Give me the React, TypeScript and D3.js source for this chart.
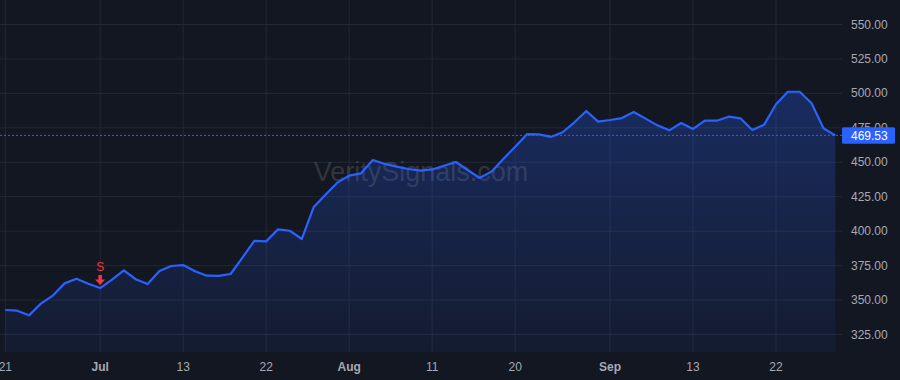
import React from "react";
import * as d3 from "d3";

const dates: string[] = [
  "2021-06-21","2021-06-22","2021-06-23","2021-06-24","2021-06-25","2021-06-28","2021-06-29","2021-06-30",
  "2021-07-01","2021-07-02","2021-07-06","2021-07-07","2021-07-08","2021-07-09","2021-07-12","2021-07-13",
  "2021-07-14","2021-07-15","2021-07-16","2021-07-19","2021-07-20","2021-07-21","2021-07-22","2021-07-23",
  "2021-07-26","2021-07-27","2021-07-28","2021-07-29","2021-07-30",
  "2021-08-02","2021-08-03","2021-08-04","2021-08-05","2021-08-06","2021-08-09","2021-08-10","2021-08-11",
  "2021-08-12","2021-08-13","2021-08-16","2021-08-17","2021-08-18","2021-08-19","2021-08-20","2021-08-23",
  "2021-08-24","2021-08-25","2021-08-26","2021-08-27","2021-08-30","2021-08-31",
  "2021-09-01","2021-09-02","2021-09-03","2021-09-07","2021-09-08","2021-09-09","2021-09-10","2021-09-13",
  "2021-09-14","2021-09-15","2021-09-16","2021-09-17","2021-09-20","2021-09-21","2021-09-22","2021-09-23",
  "2021-09-24","2021-09-27","2021-09-28","2021-09-29",
];

const prices: number[] = [
  342.8, 342.3, 338.9, 347.4, 353.2, 362.1, 365.5, 361.9,
  358.7, 364.8, 371.6, 365.1, 361.6, 371.1, 374.7, 375.4,
  370.9, 367.7, 367.5, 368.9, 380.8, 392.9, 392.6, 401.3,
  400.3, 394.3, 417.3, 426.5, 435.2,
  440.3, 442.0, 451.7, 448.8, 446.8, 445.1, 444.0, 444.8,
  447.5, 450.2, 444.4, 438.6, 443.2, 452.3, 461.2, 470.4,
  470.3, 468.4, 471.8, 479.0, 487.2, 479.5,
  480.7, 482.1, 486.5, 481.7, 476.8, 473.2, 478.5, 474.2,
  480.2, 480.2, 483.1, 481.9, 473.4, 477.3, 492.1, 501.2,
  501.2, 492.8, 474.7, 469.53,
];

const xTickDates: string[] = [
  "2021-06-21","2021-07-01","2021-07-13","2021-07-22","2021-08-02",
  "2021-08-11","2021-08-20","2021-09-01","2021-09-13","2021-09-22",
];
const xTickLabels: string[] = ["21","Jul","13","22","Aug","11","20","Sep","13","22"];
const xTickIsMonth: boolean[] = [false,true,false,false,true,false,false,true,false,false];

const yTicks: number[] = [325, 350, 375, 400, 425, 450, 475, 500, 525, 550];

const signalDates: string[] = ["2021-07-01"];
const signalLabels: string[] = ["S"];

const lastPrice = 469.53;
const watermark = "VeritySignals.com";

const W = 900;
const H = 380;
const plotRight = 842;
const plotBottom = 352;
const FONT = "'Liberation Sans', Arial, sans-serif";

export default function App() {
  const x = d3.scalePoint<string>().domain(dates).range([5.3, 835.3]);
  const y = d3.scaleLinear().domain([325, 550]).range([334.5, 24.5]);

  const pts = dates.map((d, i) => ({ d, v: prices[i] }));
  const line = d3
    .line<{ d: string; v: number }>()
    .x((p) => x(p.d)!)
    .y((p) => y(p.v));
  const area = d3
    .area<{ d: string; v: number }>()
    .x((p) => x(p.d)!)
    .y0(plotBottom)
    .y1((p) => y(p.v));

  const lastY = y(lastPrice);
  const gridColor = "#232836";
  const textColor = "#a6a9b3";

  return (
    <svg
      width={W}
      height={H}
      style={{ position: "fixed", left: 0, top: 0, display: "block" }}
      fontFamily={FONT}
    >
      <defs>
        <linearGradient id="areaGrad" x1="0" y1="0" x2="0" y2="1" gradientUnits="objectBoundingBox">
          <stop offset="0%" stopColor="#2962ff" stopOpacity={0.28} />
          <stop offset="100%" stopColor="#2962ff" stopOpacity={0.06} />
        </linearGradient>
      </defs>
      <rect x={0} y={0} width={W} height={H} fill="#131722" />

      {yTicks.map((t) => (
        <line key={"hy" + t} x1={0} x2={plotRight} y1={y(t)} y2={y(t)} stroke={gridColor} strokeWidth={1} />
      ))}
      {xTickDates.map((d) => (
        <line key={"vx" + d} x1={x(d)} x2={x(d)} y1={0} y2={plotBottom} stroke={gridColor} strokeWidth={1} />
      ))}

      <text x={421} y={181} textAnchor="middle" fontSize={27} fill="#ffffff" fillOpacity={0.15}>
        {watermark}
      </text>

      <path d={area(pts) || ""} fill="url(#areaGrad)" />
      <path d={line(pts) || ""} fill="none" stroke="#2962ff" strokeWidth={2.2} strokeLinejoin="round" />

      <line
        x1={0}
        x2={plotRight}
        y1={lastY}
        y2={lastY}
        stroke="#2962ff"
        strokeWidth={1}
        strokeDasharray="2,2"
      />

      {signalDates.map((d, i) => {
        const idx = dates.indexOf(d);
        const px = x(d)!;
        const py = y(prices[idx]);
        const tip = py - 3;
        return (
          <g key={"sig" + d}>
            <text x={px} y={tip - 14} textAnchor="middle" fontSize={12} fill="#f23645">
              {signalLabels[i]}
            </text>
            <path
              d={`M${px - 1.8},${tip - 10} L${px + 1.8},${tip - 10} L${px + 1.8},${tip - 5.5} L${px + 5},${tip - 5.5} L${px},${tip} L${px - 5},${tip - 5.5} L${px - 1.8},${tip - 5.5} Z`}
              fill="#f23645"
            />
          </g>
        );
      })}

      {yTicks.map((t) => (
        <text key={"yl" + t} x={851} y={y(t) + 4} fontSize={12} fill={textColor}>
          {t.toFixed(2)}
        </text>
      ))}

      {xTickDates.map((d, i) => (
        <text
          key={"xl" + d}
          x={x(d)}
          y={371}
          textAnchor="middle"
          fontSize={12}
          fontWeight={xTickIsMonth[i] ? "bold" : "normal"}
          fill={textColor}
        >
          {xTickLabels[i]}
        </text>
      ))}

      <rect x={842} y={lastY - 8} width={53} height={16.5} rx={1.5} fill="#2962ff" />
      <text x={851} y={lastY + 4.3} fontSize={12} fill="#ffffff">
        {lastPrice.toFixed(2)}
      </text>
    </svg>
  );
}
